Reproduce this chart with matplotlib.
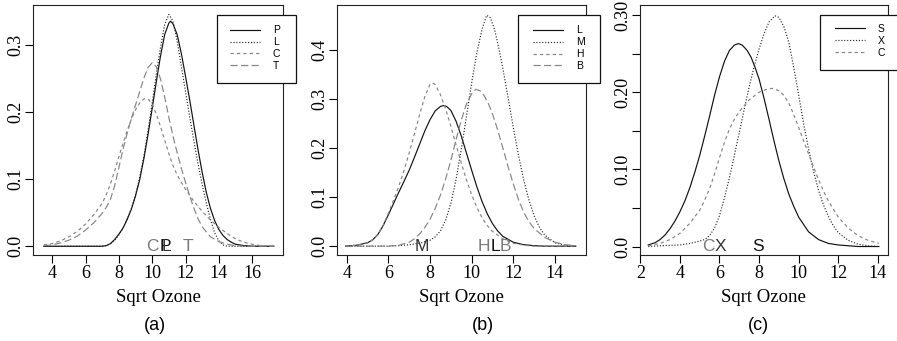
import matplotlib
matplotlib.use("Agg")
import matplotlib.pyplot as plt
from matplotlib.patches import Rectangle

plt.rcParams['lines.scale_dashes'] = False

SERIF = 'Liberation Serif'
SANS = 'Liberation Sans'
BLACK = '#111111'
GREY = '#858585'

# (a) density of sqrt ozone by site
a_P_x = [3.5, 7.0, 7.25, 7.5, 7.75, 8.0, 8.25, 8.5, 8.75, 9.0, 9.25, 9.5, 9.75, 10.0, 10.25, 10.5, 10.75, 11.0, 11.1, 11.25, 11.5, 11.75, 12.0, 12.25, 12.5, 12.75, 13.0, 13.25, 13.5, 13.75, 14.0, 14.25, 14.5, 14.75, 15.0, 15.5, 16.0, 17.3]
a_P_y = [0, 0, 0.001, 0.004, 0.010, 0.018, 0.027, 0.040, 0.055, 0.075, 0.099, 0.130, 0.166, 0.205, 0.245, 0.283, 0.315, 0.332, 0.335, 0.331, 0.315, 0.287, 0.253, 0.218, 0.181, 0.144, 0.110, 0.080, 0.056, 0.038, 0.025, 0.016, 0.010, 0.006, 0.003, 0.001, 0, 0]
a_L_x = [3.5, 7.0, 7.25, 7.5, 7.75, 8.0, 8.25, 8.5, 8.75, 9.0, 9.25, 9.5, 9.75, 10.0, 10.25, 10.5, 10.75, 11.0, 11.25, 11.5, 11.75, 12.0, 12.25, 12.5, 12.75, 13.0, 13.25, 13.5, 13.75, 14.0, 14.25, 14.5, 17.3]
a_L_y = [0, 0, 0.001, 0.004, 0.009, 0.017, 0.027, 0.040, 0.056, 0.076, 0.102, 0.134, 0.172, 0.213, 0.256, 0.296, 0.330, 0.345, 0.335, 0.305, 0.268, 0.230, 0.193, 0.157, 0.123, 0.092, 0.064, 0.040, 0.020, 0.008, 0.002, 0, 0]
a_C_x = [3.5, 4.0, 4.5, 5.0, 5.5, 6.0, 6.5, 7.0, 7.25, 7.5, 7.75, 8.0, 8.25, 8.5, 8.75, 9.0, 9.25, 9.5, 9.65, 9.8, 10.0, 10.25, 10.5, 10.75, 11.0, 11.25, 11.5, 11.75, 12.0, 12.5, 13.0, 13.5, 14.0, 14.5, 15.0, 15.5, 16.0, 16.5, 17.3]
a_C_y = [0.002, 0.004, 0.008, 0.014, 0.022, 0.033, 0.047, 0.064, 0.077, 0.093, 0.112, 0.133, 0.153, 0.172, 0.189, 0.203, 0.213, 0.219, 0.220, 0.218, 0.211, 0.197, 0.178, 0.158, 0.138, 0.120, 0.106, 0.095, 0.085, 0.067, 0.052, 0.039, 0.028, 0.019, 0.011, 0.006, 0.003, 0.001, 0]
a_T_x = [3.5, 4.0, 4.5, 5.0, 5.5, 6.0, 6.5, 7.0, 7.25, 7.5, 7.75, 8.0, 8.25, 8.5, 8.75, 9.0, 9.25, 9.5, 9.75, 10.0, 10.25, 10.5, 10.75, 11.0, 11.25, 11.5, 11.75, 12.0, 12.25, 12.5, 12.75, 13.0, 13.5, 14.0, 14.5, 15.0, 15.5, 17.3]
a_T_y = [0.001, 0.002, 0.005, 0.009, 0.015, 0.024, 0.035, 0.049, 0.058, 0.070, 0.090, 0.117, 0.144, 0.168, 0.190, 0.210, 0.230, 0.250, 0.266, 0.273, 0.267, 0.249, 0.222, 0.192, 0.164, 0.139, 0.116, 0.095, 0.075, 0.057, 0.041, 0.029, 0.014, 0.007, 0.003, 0.001, 0, 0]
a_names = ['P', 'L', 'C', 'T']
a_marks = [10.82, 10.86, 10.0, 12.16]

# (b)
b_L_x = [3.95, 4.5, 5.0, 5.25, 5.5, 5.75, 6.0, 6.25, 6.5, 6.75, 7.0, 7.25, 7.5, 7.75, 8.0, 8.25, 8.5, 8.65, 8.8, 9.0, 9.25, 9.5, 9.75, 10.0, 10.25, 10.5, 10.75, 11.0, 11.25, 11.5, 12.0, 12.5, 13.0, 13.5, 15.0]
b_L_y = [0, 0.002, 0.007, 0.013, 0.024, 0.042, 0.064, 0.087, 0.110, 0.132, 0.155, 0.181, 0.208, 0.235, 0.258, 0.276, 0.285, 0.287, 0.285, 0.277, 0.255, 0.225, 0.190, 0.155, 0.121, 0.091, 0.066, 0.046, 0.031, 0.020, 0.008, 0.003, 0.001, 0, 0]
b_M_x = [3.95, 6.0, 6.5, 7.0, 7.5, 8.0, 8.25, 8.5, 8.75, 9.0, 9.25, 9.5, 9.75, 10.0, 10.25, 10.5, 10.72, 10.9, 11.1, 11.3, 11.5, 11.75, 12.0, 12.25, 12.5, 12.75, 13.0, 13.25, 13.5, 14.0, 14.5, 15.0]
b_M_y = [0, 0, 0.001, 0.003, 0.006, 0.012, 0.019, 0.031, 0.053, 0.087, 0.136, 0.197, 0.265, 0.333, 0.395, 0.443, 0.471, 0.466, 0.442, 0.405, 0.362, 0.303, 0.242, 0.185, 0.135, 0.094, 0.062, 0.039, 0.023, 0.007, 0.002, 0]
b_H_x = [3.95, 4.5, 5.0, 5.25, 5.5, 5.75, 6.0, 6.25, 6.5, 6.75, 7.0, 7.25, 7.5, 7.75, 8.0, 8.1, 8.25, 8.5, 8.75, 9.0, 9.25, 9.5, 9.75, 10.0, 10.25, 10.5, 10.75, 11.0, 11.5, 12.0, 12.5, 13.0, 15.0]
b_H_y = [0, 0.002, 0.007, 0.013, 0.024, 0.043, 0.067, 0.094, 0.122, 0.154, 0.190, 0.229, 0.268, 0.305, 0.330, 0.333, 0.330, 0.309, 0.280, 0.245, 0.207, 0.170, 0.135, 0.105, 0.079, 0.058, 0.042, 0.030, 0.015, 0.006, 0.002, 0, 0]
b_B_x = [3.95, 6.0, 6.5, 7.0, 7.25, 7.5, 7.75, 8.0, 8.25, 8.5, 8.75, 9.0, 9.25, 9.5, 9.75, 10.0, 10.2, 10.4, 10.6, 10.8, 11.0, 11.25, 11.5, 11.75, 12.0, 12.25, 12.5, 12.75, 13.0, 13.5, 14.0, 14.5, 15.0]
b_B_y = [0, 0, 0.002, 0.008, 0.015, 0.025, 0.038, 0.055, 0.077, 0.104, 0.137, 0.175, 0.217, 0.257, 0.290, 0.311, 0.320, 0.317, 0.307, 0.291, 0.270, 0.237, 0.200, 0.162, 0.127, 0.095, 0.069, 0.050, 0.036, 0.018, 0.008, 0.003, 0.001]
b_names = ['L', 'M', 'H', 'B']
b_marks = [11.15, 7.6, 10.6, 11.6]

# (c)
c_S_x = [2.4, 2.75, 3.0, 3.25, 3.5, 3.75, 4.0, 4.25, 4.5, 4.75, 5.0, 5.25, 5.5, 5.75, 6.0, 6.25, 6.5, 6.75, 6.95, 7.15, 7.4, 7.6, 7.8, 8.0, 8.25, 8.5, 8.75, 9.0, 9.25, 9.5, 9.75, 10.0, 10.5, 11.0, 11.5, 12.0, 12.5, 13.0, 14.05]
c_S_y = [0.002, 0.005, 0.009, 0.015, 0.023, 0.033, 0.045, 0.059, 0.076, 0.096, 0.118, 0.143, 0.169, 0.196, 0.220, 0.240, 0.254, 0.261, 0.263, 0.261, 0.254, 0.245, 0.232, 0.217, 0.192, 0.165, 0.137, 0.111, 0.088, 0.068, 0.052, 0.038, 0.019, 0.009, 0.004, 0.002, 0.001, 0, 0]
c_X_x = [2.4, 3.0, 4.0, 4.5, 5.0, 5.25, 5.5, 5.75, 6.0, 6.25, 6.5, 6.75, 7.0, 7.25, 7.5, 7.75, 8.0, 8.25, 8.5, 8.8, 9.0, 9.25, 9.5, 9.75, 10.0, 10.25, 10.5, 10.75, 11.0, 11.25, 11.5, 11.75, 12.0, 12.5, 13.0, 13.5, 14.05]
c_X_y = [0, 0.001, 0.002, 0.004, 0.007, 0.009, 0.014, 0.024, 0.040, 0.063, 0.089, 0.118, 0.148, 0.178, 0.207, 0.233, 0.256, 0.276, 0.291, 0.299, 0.297, 0.285, 0.265, 0.232, 0.196, 0.159, 0.126, 0.097, 0.073, 0.054, 0.039, 0.027, 0.018, 0.008, 0.003, 0.001, 0]
c_C_x = [2.4, 3.0, 3.5, 4.0, 4.5, 5.0, 5.25, 5.5, 5.75, 6.0, 6.25, 6.5, 6.75, 7.0, 7.5, 8.0, 8.4, 8.7, 9.0, 9.25, 9.5, 9.75, 10.0, 10.25, 10.5, 10.75, 11.0, 11.25, 11.5, 12.0, 12.5, 13.0, 13.5, 14.05]
c_C_y = [0.001, 0.004, 0.009, 0.017, 0.030, 0.047, 0.060, 0.075, 0.094, 0.115, 0.135, 0.152, 0.165, 0.175, 0.190, 0.200, 0.204, 0.205, 0.202, 0.196, 0.186, 0.171, 0.154, 0.137, 0.120, 0.103, 0.087, 0.072, 0.059, 0.038, 0.024, 0.014, 0.008, 0.004]
c_names = ['S', 'X', 'C']
c_marks = [7.94, 6.04, 5.45]

styles = [
    dict(color=BLACK, linestyle='-'),
    dict(color='#222222', linestyle=(0, (0.8, 1.3))),
    dict(color=GREY, linestyle=(0, (2.4, 2.2))),
    dict(color=GREY, linestyle=(0, (5.2, 2.4))),
]
mark_colors = ['#111111', '#333333', '#7a7a7a', '#7a7a7a']

W, H = 897, 341
fig = plt.figure(figsize=(W / 100, H / 100), dpi=100)


def px_axes(left, right, top, bottom):
    return fig.add_axes([left / W, 1 - bottom / H, (right - left) / W, (bottom - top) / H])


panels = [
    dict(box=(33, 283, 5, 255), xlim=(2.85, 17.85), ylim=(-0.013, 0.359),
         xticks=range(4, 17, 2), yticks=[0, 0.1, 0.2, 0.3], ylabels=['0.0', '0.1', '0.2', '0.3'],
         curves=[(a_P_x, a_P_y), (a_L_x, a_L_y), (a_C_x, a_C_y), (a_T_x, a_T_y)],
         names=a_names, marks=a_marks, caption='(a)', cap_x=155,
         legbox=(216.7, 295.7, 15, 82.7), handle_x=230, rows=(27.7, 68.5)),
    dict(box=(336.7, 586, 5, 255), xlim=(3.52, 15.49), ylim=(-0.018, 0.492),
         xticks=range(4, 15, 2), yticks=[0, 0.1, 0.2, 0.3, 0.4], ylabels=['0.0', '0.1', '0.2', '0.3', '0.4'],
         curves=[(b_L_x, b_L_y), (b_M_x, b_M_y), (b_H_x, b_H_y), (b_B_x, b_B_y)],
         names=b_names, marks=b_marks, caption='(b)', cap_x=483,
         legbox=(518, 600, 15, 83), handle_x=533.3, rows=(28.3, 68.3)),
    dict(box=(639.7, 888, 5, 255), xlim=(1.97, 14.51), ylim=(-0.011, 0.313),
         xticks=range(2, 15, 2), yticks=[0, 0.05, 0.1, 0.15, 0.2, 0.25, 0.3],
         ylabels=['0.0', '', '0.10', '', '0.20', '', '0.30'],
         curves=[(c_S_x, c_S_y), (c_X_x, c_X_y), (c_C_x, c_C_y)],
         names=c_names, marks=c_marks, caption='(c)', cap_x=758,
         legbox=(819.7, 905, 15, 70), handle_x=835, rows=(27.7, 54.3)),
]

for p in panels:
    left, right, top, bottom = p['box']
    ax = px_axes(left, right, top, bottom)
    aw, ah = right - left, bottom - top

    for (xs, ys), name, st in zip(p['curves'], p['names'], styles):
        ax.plot(xs, ys, lw=0.85, label=name, **st)

    for name, xm, col in zip(p['names'], p['marks'], mark_colors):
        ax.text(xm, 0, name, ha='center', va='center', fontsize=12.5,
                family=SANS, color=col)

    ax.set_xlim(*p['xlim'])
    ax.set_ylim(*p['ylim'])
    ax.set_xticks(list(p['xticks']))
    ax.set_yticks(p['yticks'])
    ax.set_yticklabels(p['ylabels'], rotation=90, va='center')
    ax.tick_params(direction='out', length=5.8, width=0.8, labelsize=13, pad=1.5)
    ax.tick_params(axis='y', pad=0.5)
    for lbl in ax.get_xticklabels() + ax.get_yticklabels():
        lbl.set_family(SERIF)
    for sp in ax.spines.values():
        sp.set_linewidth(0.8)
        sp.set_color('#222222')

    ax.set_xlabel('Sqrt Ozone', family=SERIF, fontsize=13.5)
    ax.xaxis.set_label_coords(0.5, (bottom - 289) / ah)

    # legend frame drawn as a plain box, entries placed inside it
    lx0, lx1, ly0, ly1 = p['legbox']
    ax.add_patch(Rectangle(((lx0 - left) / aw, (bottom - ly1) / ah),
                           (lx1 - lx0) / aw, (ly1 - ly0) / ah,
                           transform=ax.transAxes, fill=True, facecolor='white',
                           edgecolor='#111111', lw=0.9, clip_on=False, zorder=4))
    r0, r1 = p['rows']
    leg = ax.legend(loc='center left', frameon=False,
                    bbox_to_anchor=((p['handle_x'] - left) / aw, (bottom - (r0 + r1) / 2) / ah),
                    borderpad=0, borderaxespad=0, handlelength=2.85, handletextpad=1.25,
                    labelspacing=0.18, prop={'family': SANS, 'size': 7.5})
    leg.set_zorder(5)

    fig.text(p['cap_x'] / W, 1 - 325 / H, p['caption'], ha='center', va='center',
             fontsize=13, family=SANS)

fig.savefig('out.png', dpi=100)
